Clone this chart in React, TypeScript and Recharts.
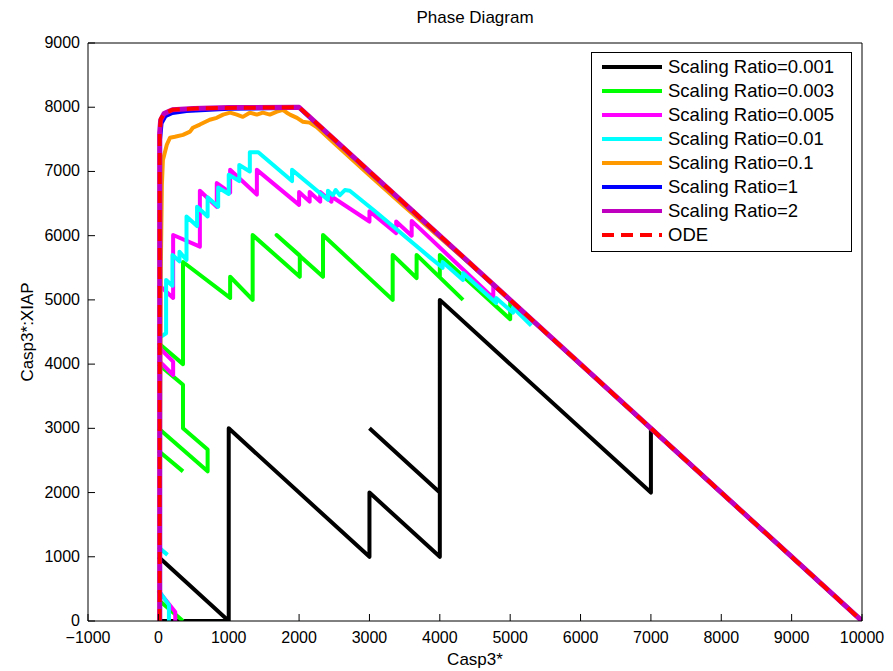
import { LineChart, Line, XAxis, YAxis } from 'recharts'

const FONT = '"Liberation Sans", Arial, Helvetica, sans-serif'

const X_TICKS = [-1000, 0, 1000, 2000, 3000, 4000, 5000, 6000, 7000, 8000, 9000, 10000]
const Y_TICKS = [0, 1000, 2000, 3000, 4000, 5000, 6000, 7000, 8000, 9000]

// plot box in page pixels (axes + ticks only)
const L = 88
const R = 862
const T = 43
const B = 621

// [Casp3*, Casp3*:XIAP]; a null y breaks the line
const ratio0001 = [
  [0, 1000], [1000, 0], [1000, null],
  [0, 0], [1000, 0], [1000, 3000], [3000, 1000], [3000, 2000], [4000, 1000], [4000, 5000],
  [7000, 2000], [7000, 3000], [10000, 0], [10000, null],
  [3000, 3000], [4000, 2000],
]

const ratio0003 = [
  [0, 330], [350, 0], [350, null],
  [0, 2650], [350, 2330], [350, null],
  [0, 3000], [700, 2330], [700, 2670], [350, 3000], [350, 3680], [0, 4000], [0, null],
  [0, 4330], [350, 4000], [350, 5590], [1020, 5030], [1020, 5360], [1340, 5000], [1340, 6010],
  [2010, 5360], [2010, 5690], [1680, 6010], [2340, 5360], [2340, 6010], [3330, 5000], [3330, 5700],
  [3670, 5340], [3670, 5700], [4330, 5000], [4330, null],
  [4000, 5350], [4000, 5700], [5000, 4700], [5000, 4970], [5030, 4970],
]

const ratio0005 = [
  [0, 470], [240, 140], [240, 0], [240, null],
  [0, 4060], [210, 3830], [210, 4040], [0, 4270], [0, null],
  [0, 5240], [210, 5030], [210, 6010], [590, 5830], [590, 6700], [830, 6450], [830, 6820],
  [1020, 6670], [1020, 7025], [1400, 6640], [1400, 7025], [2000, 6480], [2000, 6680], [2150, 6530],
  [2150, 6680], [2300, 6530], [2300, 6680], [2460, 6530], [2460, 6610], [3000, 6220], [3000, 6380],
  [3380, 6040], [3380, 6220], [3600, 6000], [3600, 6230], [4760, 5030], [4760, 5240],
]

const ratio001 = [
  [150, 0], [150, 250], [0, 480], [0, null],
  [0, 1150], [130, 1030], [130, null],
  [0, 4400], [110, 4480], [110, 5310], [200, 5220], [200, 5700], [300, 5600], [300, 5750],
  [400, 5620], [400, 6300], [550, 6150], [550, 6450], [700, 6300], [700, 6600], [850, 6450],
  [850, 6750], [1000, 6650], [1000, 6950], [1150, 6850], [1150, 7100], [1300, 7000], [1300, 7300],
  [1420, 7300], [1900, 6850], [1900, 7025], [2410, 6560], [2410, 6700], [2480, 6630], [2520, 6710],
  [2580, 6630], [2650, 6710], [2720, 6700], [3080, 6380], [3850, 5670], [4040, 5500], [4040, 5590],
  [4330, 5310], [4330, 5420], [4800, 4950], [4800, 5030], [5040, 4800], [5040, 4880], [5300, 4600],
]

const ratio01 = [
  [20, 0], [25, 3000], [35, 5500], [50, 6790], [65, 7180], [120, 7415], [165, 7525], [235, 7540],
  [350, 7570], [450, 7620], [490, 7680], [590, 7730], [730, 7805], [830, 7835], [920, 7885],
  [1020, 7915], [1115, 7885], [1200, 7850], [1300, 7915], [1400, 7885], [1485, 7915], [1585, 7885],
  [1685, 7930], [1770, 7960], [1825, 7915], [1870, 7885], [1970, 7835], [2050, 7775], [2150, 7760],
  [2250, 7690], [2500, 7440], [3000, 6940], [3500, 6450], [4000, 5970], [4400, 5590], [10000, 0],
]

const ratio1 = [
  [25, 0], [25, 7500], [45, 7750], [100, 7860], [200, 7910], [400, 7940], [1000, 7975],
  [2000, 7990], [10000, 0],
]

const ratio2 = [
  [18, 0], [18, 7600], [32, 7800], [80, 7900], [200, 7960], [500, 7980], [1000, 7995],
  [2000, 8000], [10000, 0],
]

const ode = [
  [18, 0], [18, 7620], [35, 7820], [90, 7910], [200, 7960], [600, 7985], [2000, 8000], [10000, 0],
]

const toPoints = (rows: (number | null)[][]) => rows.map(([x, y]) => ({ x, y }))

const SERIES = [
  { name: 'Scaling Ratio=0.001', color: '#000000', width: 4, rows: ratio0001 },
  { name: 'Scaling Ratio=0.003', color: '#00ff00', width: 4, rows: ratio0003 },
  { name: 'Scaling Ratio=0.005', color: '#ff00ff', width: 4, rows: ratio0005 },
  { name: 'Scaling Ratio=0.01', color: '#00ffff', width: 4, rows: ratio001 },
  { name: 'Scaling Ratio=0.1', color: '#ff9900', width: 4, rows: ratio01 },
  { name: 'Scaling Ratio=1', color: '#0000ff', width: 4, rows: ratio1 },
  { name: 'Scaling Ratio=2', color: '#bf00bf', width: 5, rows: ratio2 },
  { name: 'ODE', color: '#ff0000', width: 4, rows: ode, dash: '12 7' },
]

const fmt = (v: number) => (v < 0 ? '\u2212' + Math.abs(v) : String(v))

const BottomTick = (p: any) => (
  <g>
    <line x1={p.x} x2={p.x} y1={B} y2={B - 7} stroke="#000" />
    <text x={p.x} y={B + 22} textAnchor="middle" fontSize={16} fontFamily={FONT} fill="#000">
      {fmt(p.payload.value)}
    </text>
  </g>
)

const TopTick = (p: any) => <line x1={p.x} x2={p.x} y1={T} y2={T + 7} stroke="#000" />

const LeftTick = (p: any) => (
  <g>
    <line x1={L} x2={L + 7} y1={p.y} y2={p.y} stroke="#000" />
    <text x={L - 8} y={p.y + 5} textAnchor="end" fontSize={16} fontFamily={FONT} fill="#000">
      {p.payload.value}
    </text>
  </g>
)

const RightTick = (p: any) => <line x1={R} x2={R - 7} y1={p.y} y2={p.y} stroke="#000" />

function LegendBox() {
  return (
    <div
      style={{
        position: 'absolute',
        left: 591,
        top: 52,
        width: 261,
        height: 200,
        boxSizing: 'border-box',
        border: '1.5px solid #000',
        background: '#fff',
        paddingTop: 2,
        fontFamily: FONT,
        fontSize: 18.5,
      }}
    >
      {SERIES.map((s) => (
        <div key={s.name} style={{ display: 'flex', alignItems: 'center', height: 24, paddingLeft: 10 }}>
          <svg width={60} height={10} style={{ marginRight: 6 }}>
            <line x1={0} x2={60} y1={5} y2={5} stroke={s.color} strokeWidth={4} strokeDasharray={s.dash} />
          </svg>
          <span style={{ lineHeight: '24px', whiteSpace: 'nowrap' }}>{s.name}</span>
        </div>
      ))}
    </div>
  )
}

export default function App() {
  return (
    <div style={{ position: 'absolute', left: 0, top: 0, width: 893, height: 671, background: '#fff', fontFamily: FONT }}>
      <LineChart width={893} height={671} margin={{ top: 42, right: 30, bottom: 0, left: 0 }}>
        <XAxis
          dataKey="x"
          type="number"
          domain={[-1000, 10000]}
          ticks={X_TICKS}
          interval={0}
          height={50}
          allowDataOverflow
          axisLine={{ stroke: '#000' }}
          tickLine={false}
          tick={BottomTick}
        />
        <XAxis
          xAxisId="top"
          orientation="top"
          dataKey="x"
          type="number"
          domain={[-1000, 10000]}
          ticks={X_TICKS}
          interval={0}
          height={1}
          axisLine={{ stroke: '#000' }}
          tickLine={false}
          tick={TopTick}
        />
        <YAxis
          type="number"
          domain={[0, 9000]}
          ticks={Y_TICKS}
          interval={0}
          width={88}
          allowDataOverflow
          axisLine={{ stroke: '#000' }}
          tickLine={false}
          tick={LeftTick}
        />
        <YAxis
          yAxisId="right"
          orientation="right"
          type="number"
          domain={[0, 9000]}
          ticks={Y_TICKS}
          interval={0}
          width={1}
          axisLine={{ stroke: '#000' }}
          tickLine={false}
          tick={RightTick}
        />
        {SERIES.map((s) => (
          <Line
            key={s.name}
            name={s.name}
            data={toPoints(s.rows)}
            dataKey="y"
            type="linear"
            stroke={s.color}
            strokeWidth={s.width}
            strokeDasharray={s.dash}
            strokeLinejoin="round"
            dot={false}
            activeDot={false}
            connectNulls={false}
            isAnimationActive={false}
          />
        ))}
      </LineChart>
      <div style={{ position: 'absolute', left: L, width: R - L, top: 8, textAlign: 'center', fontSize: 17 }}>
        Phase Diagram
      </div>
      <div style={{ position: 'absolute', left: L, width: R - L, top: 650, textAlign: 'center', fontSize: 17 }}>
        Casp3*
      </div>
      <div
        style={{
          position: 'absolute',
          left: 28,
          top: 332,
          transform: 'translate(-50%, -50%) rotate(-90deg)',
          fontSize: 17,
          whiteSpace: 'nowrap',
        }}
      >
        Casp3*:XIAP
      </div>
      <LegendBox />
    </div>
  )
}
